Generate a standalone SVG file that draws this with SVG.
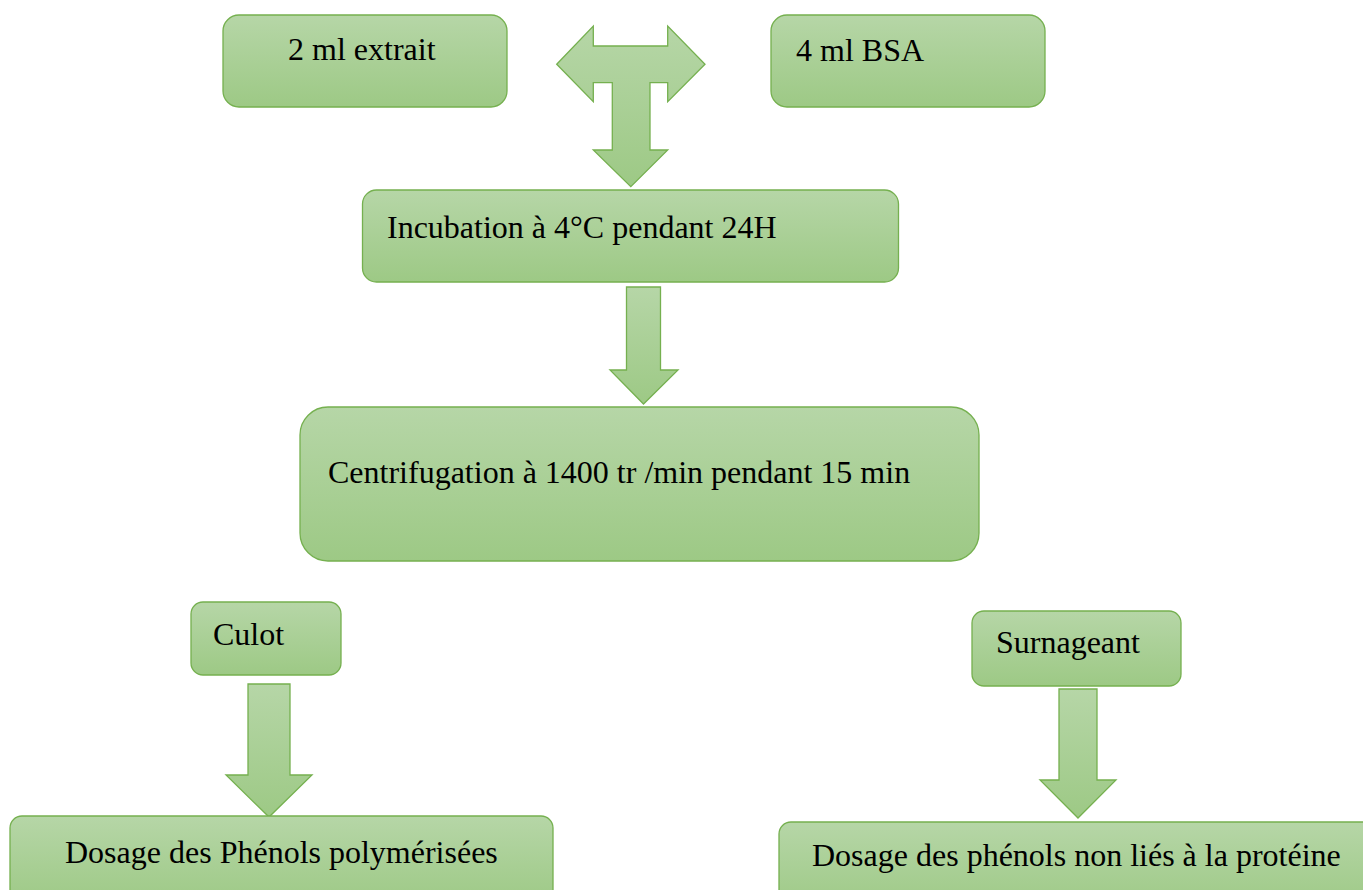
<svg xmlns="http://www.w3.org/2000/svg" width="1363" height="890" viewBox="0 0 1363 890">
<defs>
<linearGradient id="g" x1="0" y1="0" x2="0" y2="1">
<stop offset="0" stop-color="#b6d6a7"/>
<stop offset="1" stop-color="#9dc985"/>
</linearGradient>
<style>
.box{fill:url(#g);stroke:#75b04f;stroke-width:1.3}
.arr{fill:url(#g);stroke:#75b04f;stroke-width:1.3;stroke-linejoin:miter}
</style>
</defs>
<rect width="1363" height="890" fill="#fff"/>
<g id="connectors">
<path class="arr" d="M556.7,64.3 L593.3,26 L593.3,46 L667.7,46 L667.7,26 L705,64.3 L667.7,101.7 L667.7,82.7 L650,82.7 L650,150 L667.7,150 L630.8,186.7 L593.3,150 L612.3,150 L612.3,82.7 L593.3,82.7 L593.3,101.7 Z"/>
<path class="arr" d="M626.5,287 L660.5,287 L660.5,370 L678,370 L643.5,404 L610,370 L626.5,370 Z"/>
<path class="arr" d="M248,684 L290,684 L290,775 L312,775 L269,817 L226,775 L248,775 Z"/>
<path class="arr" d="M1059,689 L1097,689 L1097,780 L1116,780 L1078,818 L1040,780 L1059,780 Z"/>
</g>
<g id="n1"><rect class="box" x="223" y="15" width="284" height="92" rx="16"/><text x="288" y="60" style="font-family:'Liberation Serif',serif;font-size:32px;fill:#000">2 ml extrait</text></g>
<g id="n2"><rect class="box" x="771" y="15" width="274" height="92" rx="16"/><text x="796" y="61" style="font-family:'Liberation Serif',serif;font-size:32px;fill:#000">4 ml BSA</text></g>
<g id="n3"><rect class="box" x="362.5" y="190" width="536" height="92" rx="14"/><text x="387" y="238" style="font-family:'Liberation Serif',serif;font-size:32px;fill:#000">Incubation à 4°C pendant 24H</text></g>
<g id="n4"><rect class="box" x="300" y="407" width="679" height="154" rx="28"/><text x="328" y="483" style="font-family:'Liberation Serif',serif;font-size:32px;fill:#000">Centrifugation à 1400 tr /min pendant 15 min</text></g>
<g id="n5"><rect class="box" x="191" y="602" width="150" height="73" rx="12"/><text x="213" y="645" style="font-family:'Liberation Serif',serif;font-size:32px;fill:#000">Culot</text></g>
<g id="n6"><rect class="box" x="972" y="611" width="209" height="75" rx="12"/><text x="996" y="653" style="font-family:'Liberation Serif',serif;font-size:32px;fill:#000">Surnageant</text></g>
<g id="n7"><rect class="box" x="10" y="816" width="543" height="90" rx="12"/><text x="65" y="863" style="font-family:'Liberation Serif',serif;font-size:32px;fill:#000">Dosage des Phénols polymérisées</text></g>
<g id="n8"><rect class="box" x="779" y="822" width="600" height="90" rx="12"/><text x="812" y="866" style="font-family:'Liberation Serif',serif;font-size:32px;fill:#000">Dosage des phénols non liés à la protéine</text></g>
</svg>
